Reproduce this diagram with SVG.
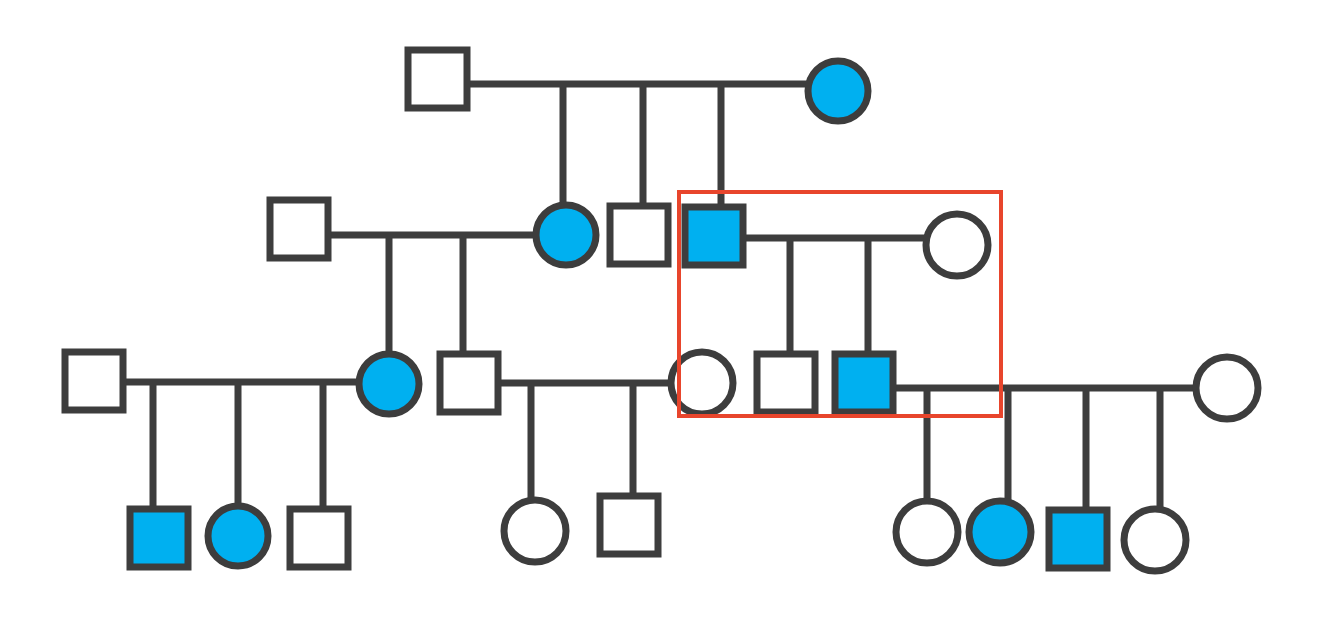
<svg xmlns="http://www.w3.org/2000/svg" width="1318" height="636" viewBox="0 0 1318 636">
<style>
.s{fill:#fff;stroke:#3d3d3d;stroke-width:7}
.f{fill:#00b0f0}
.l{stroke:#3d3d3d;stroke-width:7;fill:none}
</style>
<rect width="1318" height="636" fill="#fff"/>
<g id="connectors" class="l">
<path d="M468 84H808M563 84V205M643 84V206M721 84V207"/>
<path d="M328 235H536M389 235V354M463 235V354"/>
<path d="M743 238H926M790 238V354M868 238V354"/>
<path d="M123 382H358M153 382V509M238 382V506M323 382V509"/>
<path d="M498 383H671M531 383V500M633 383V496"/>
<path d="M893 388H1196M927 388V501M1008 388V501M1086 388V510M1160 388V509"/>
</g>
<g id="n1"><rect class="s" x="408" y="50" width="59" height="58"/></g>
<g id="n2"><circle class="s f" cx="838" cy="91" r="30"/></g>
<g id="n3"><rect class="s" x="270" y="200" width="58" height="58"/></g>
<g id="n4"><circle class="s f" cx="566" cy="235" r="30"/></g>
<g id="n5"><rect class="s" x="610" y="206" width="58" height="58"/></g>
<g id="n6"><rect class="s f" x="685" y="207" width="58" height="58"/></g>
<g id="n7"><circle class="s" cx="957" cy="245" r="31"/></g>
<g id="n8"><rect class="s" x="65" y="352" width="58" height="58"/></g>
<g id="n9"><circle class="s f" cx="389" cy="384" r="30"/></g>
<g id="n10"><rect class="s" x="440" y="354" width="58" height="58"/></g>
<g id="n11"><circle class="s" cx="702" cy="383" r="31"/></g>
<g id="n12"><rect class="s" x="757" y="354" width="58" height="58"/></g>
<g id="n13"><rect class="s f" x="835" y="354" width="58" height="58"/></g>
<g id="n14"><circle class="s" cx="1227" cy="388" r="31"/></g>
<g id="n15"><rect class="s f" x="130" y="509" width="58" height="58"/></g>
<g id="n16"><circle class="s f" cx="238" cy="536" r="30"/></g>
<g id="n17"><rect class="s" x="290" y="509" width="58" height="58"/></g>
<g id="n18"><circle class="s" cx="535" cy="531" r="31"/></g>
<g id="n19"><rect class="s" x="600" y="496" width="58" height="58"/></g>
<g id="n20"><circle class="s" cx="927" cy="532" r="31"/></g>
<g id="n21"><circle class="s f" cx="1000" cy="532" r="31"/></g>
<g id="n22"><rect class="s f" x="1049" y="510" width="58" height="58"/></g>
<g id="n23"><circle class="s" cx="1155" cy="540" r="31"/></g>
<rect x="679" y="192" width="322" height="224" fill="none" stroke="#e8452c" stroke-width="4"/>
</svg>
